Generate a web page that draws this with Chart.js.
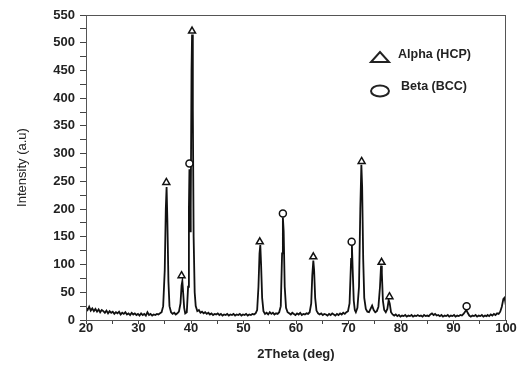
<!DOCTYPE html>
<html>
<head>
<meta charset="utf-8">
<script src="https://cdn.jsdelivr.net/npm/chart.js@4.4.0/dist/chart.umd.min.js"></script>
<style>
html,body{margin:0;padding:0;background:#fff;}
#wrap{position:relative;width:517px;height:371px;}
</style>
</head>
<body>
<div id="wrap"><canvas id="c" width="517" height="371"></canvas></div>
<script>
// Diffraction pattern (2θ in degrees, intensity in a.u.)
const twoTheta = [
20.0,20.3,20.6,20.9,21.2,21.5,21.8,22.1,22.4,22.7,23.0,23.3,23.6,23.9,24.2,24.5,24.8,25.1,25.4,25.7,
26.0,26.3,26.6,26.9,27.2,27.5,27.8,28.1,28.4,28.7,29.0,29.3,29.6,29.9,30.2,30.5,30.8,31.1,31.4,31.7,
32.0,32.3,32.6,32.9,33.2,33.5,33.8,34.1,34.4,34.7,35.0,35.2,35.35,35.5,35.7,35.9,36.2,36.5,36.8,37.1,
37.4,37.7,38.0,38.2,38.35,38.5,38.7,38.9,39.2,39.45,39.6,39.7,39.82,39.95,40.1,40.2,40.35,40.5,40.7,40.9,
41.2,41.5,41.8,42.1,42.4,42.7,43.0,43.3,43.6,43.9,44.2,44.5,44.8,45.1,45.4,45.7,46.0,46.3,46.6,46.9,
47.2,47.5,47.8,48.1,48.4,48.7,49.0,49.3,49.6,49.9,50.2,50.5,50.8,51.1,51.4,51.7,52.0,52.3,52.6,52.85,
53.05,53.2,53.35,53.55,53.8,54.1,54.4,54.7,55.0,55.3,55.6,55.9,56.2,56.5,56.8,57.1,57.35,57.5,57.65,57.85,
58.1,58.4,58.7,59.0,59.3,59.6,59.9,60.2,60.5,60.8,61.1,61.4,61.7,62.0,62.3,62.6,62.9,63.1,63.3,63.45,
63.65,63.9,64.2,64.5,64.8,65.1,65.4,65.7,66.0,66.3,66.6,66.9,67.2,67.5,67.8,68.1,68.4,68.7,69.0,69.3,
69.6,69.9,70.2,70.5,70.65,70.8,71.0,71.2,71.4,71.7,72.0,72.25,72.45,72.6,72.8,73.0,73.3,73.6,73.9,74.2,
74.5,74.8,75.1,75.4,75.7,76.0,76.2,76.35,76.55,76.8,77.1,77.4,77.65,77.85,78.1,78.4,78.7,79.0,79.3,79.6,
79.9,80.2,80.5,80.8,81.1,81.4,81.7,82.0,82.3,82.6,82.9,83.2,83.5,83.8,84.1,84.4,84.7,85.0,85.3,85.6,
85.9,86.2,86.5,86.8,87.1,87.4,87.7,88.0,88.3,88.6,88.9,89.2,89.5,89.8,90.1,90.4,90.7,91.0,91.3,91.6,
91.9,92.2,92.45,92.7,93.0,93.3,93.6,93.9,94.2,94.5,94.8,95.1,95.4,95.7,96.0,96.3,96.5,96.8,97.1,97.4,
97.7,98.0,98.3,98.6,98.9,99.2,99.5,99.7,99.85,100.0
];
const intensity = [
22,18,24,17,21,16,20,15,19,14,18,16,13,17,12,16,13,15,11,14,
12,15,10,13,11,14,10,12,9,13,10,12,9,11,8,12,9,11,8,14,
9,11,8,10,9,11,10,12,14,25,90,200,240,180,70,25,14,11,13,10,
12,15,30,62,70,50,22,12,14,60,200,272,160,200,450,515,380,150,50,25,
16,18,13,15,12,14,11,13,10,12,9,11,10,12,9,11,8,10,9,11,
8,10,9,11,8,10,9,11,8,10,9,11,8,10,9,11,10,12,18,60,
120,135,100,40,16,11,13,10,14,11,13,10,12,11,14,25,120,185,160,60,
22,14,12,10,13,11,9,12,10,13,9,11,10,12,11,14,30,80,107,90,
40,17,12,10,12,9,11,10,8,11,9,12,10,8,11,9,12,10,13,11,
14,16,30,110,135,90,35,18,14,22,60,200,280,240,110,40,20,15,14,20,
26,18,14,16,24,60,98,85,35,18,14,20,36,30,14,10,8,10,7,9,
6,8,7,9,6,8,7,9,6,8,7,9,7,8,6,9,7,8,7,10,
12,9,11,8,9,7,9,6,8,7,9,6,8,7,9,6,8,7,9,8,
11,15,18,13,8,6,8,7,9,6,8,7,9,6,8,7,9,7,10,8,
11,9,12,11,15,24,38,40,34,25
];
// Phase markers
const alphaTheta = [35.3, 38.2, 40.2, 53.1, 63.3, 72.5, 76.3, 77.8];
const alphaMark  = [248, 80, 521, 141, 114, 286, 104, 42];
const betaTheta  = [39.7, 57.5, 70.6, 92.5];
const betaMark   = [282, 192, 141, 25];
const legendLabels = ['Alpha (HCP)', 'Beta (BCC)'];
const xTitle = '2Theta (deg)';
const yTitle = 'Intensity (a.u)';

const FONT = "'Liberation Sans', Arial, sans-serif";

const frameAndLegend = {
  id: 'frameAndLegend',
  afterDraw(chart) {
    const {ctx, chartArea: a} = chart;
    ctx.save();
    ctx.strokeStyle = '#555';
    ctx.lineWidth = 1;
    ctx.strokeRect(a.left + 0.5, a.top + 0.5, a.right - a.left - 1, a.bottom - a.top);
    // legend
    ctx.strokeStyle = '#222';
    ctx.lineWidth = 2;
    const tx = 380, ty = 57;
    ctx.beginPath();
    ctx.moveTo(tx - 9, ty + 5);
    ctx.lineTo(tx + 9, ty + 5);
    ctx.lineTo(tx, ty - 5);
    ctx.closePath();
    ctx.stroke();
    ctx.beginPath();
    ctx.ellipse(380, 91, 9, 5.5, 0, 0, Math.PI * 2);
    ctx.stroke();
    ctx.fillStyle = '#222';
    ctx.font = "bold 12.5px " + FONT;
    ctx.textBaseline = 'middle';
    ctx.textAlign = 'left';
    ctx.fillText(legendLabels[0], 398, 55);
    ctx.fillText(legendLabels[1], 401, 87);
    ctx.restore();
  }
};

new Chart(document.getElementById('c'), {
  type: 'scatter',
  data: {
    datasets: [
      {
        data: twoTheta.map((x, i) => ({x, y: intensity[i]})),
        showLine: true,
        borderColor: '#111',
        borderWidth: 1.8,
        pointRadius: 0,
        tension: 0,
        order: 2
      },
      {
        data: alphaTheta.map((x, i) => ({x, y: alphaMark[i]})),
        pointStyle: 'triangle',
        pointRadius: 4,
        backgroundColor: '#fff',
        borderColor: '#111',
        borderWidth: 1.5,
        order: 1
      },
      {
        data: betaTheta.map((x, i) => ({x, y: betaMark[i]})),
        pointStyle: 'circle',
        pointRadius: 3.5,
        backgroundColor: '#fff',
        borderColor: '#111',
        borderWidth: 1.5,
        order: 1
      }
    ]
  },
  options: {
    responsive: false,
    animation: false,
    layout: {padding: {top: 15, right: 11, left: 0, bottom: 0}},
    plugins: {legend: {display: false}, tooltip: {enabled: false}},
    scales: {
      x: {
        type: 'linear',
        min: 20, max: 100,
        afterFit(s) { s.height = 51; },
        grid: {drawOnChartArea: false, tickLength: 4, tickColor: '#444'},
        border: {color: '#444', width: 1},
        ticks: {
          stepSize: 5,
          padding: -3,
          autoSkip: false,
          maxRotation: 0,
          minRotation: 0,
          color: '#222',
          font: {family: FONT, size: 13, weight: 'bold'},
          callback: v => (v % 10 === 0 ? v : '')
        },
        title: {display: true, text: xTitle, color: '#222',
          font: {family: FONT, size: 13, weight: 'bold'}, padding: {top: 0, bottom: 9}}
      },
      y: {
        min: 0, max: 550,
        afterFit(s) { s.width = 86; },
        grid: {drawOnChartArea: false, tickLength: 6, tickColor: '#444'},
        border: {color: '#444', width: 1},
        ticks: {
          stepSize: 25,
          padding: 5,
          autoSkip: false,
          color: '#222',
          font: {family: FONT, size: 13, weight: 'bold'},
          callback: v => (v % 50 === 0 ? v : '')
        },
        title: {display: true, text: yTitle, color: '#222',
          font: {family: FONT, size: 13}, padding: {top: 15, bottom: 0}}
      }
    }
  },
  plugins: [frameAndLegend]
});
</script>
</body>
</html>
